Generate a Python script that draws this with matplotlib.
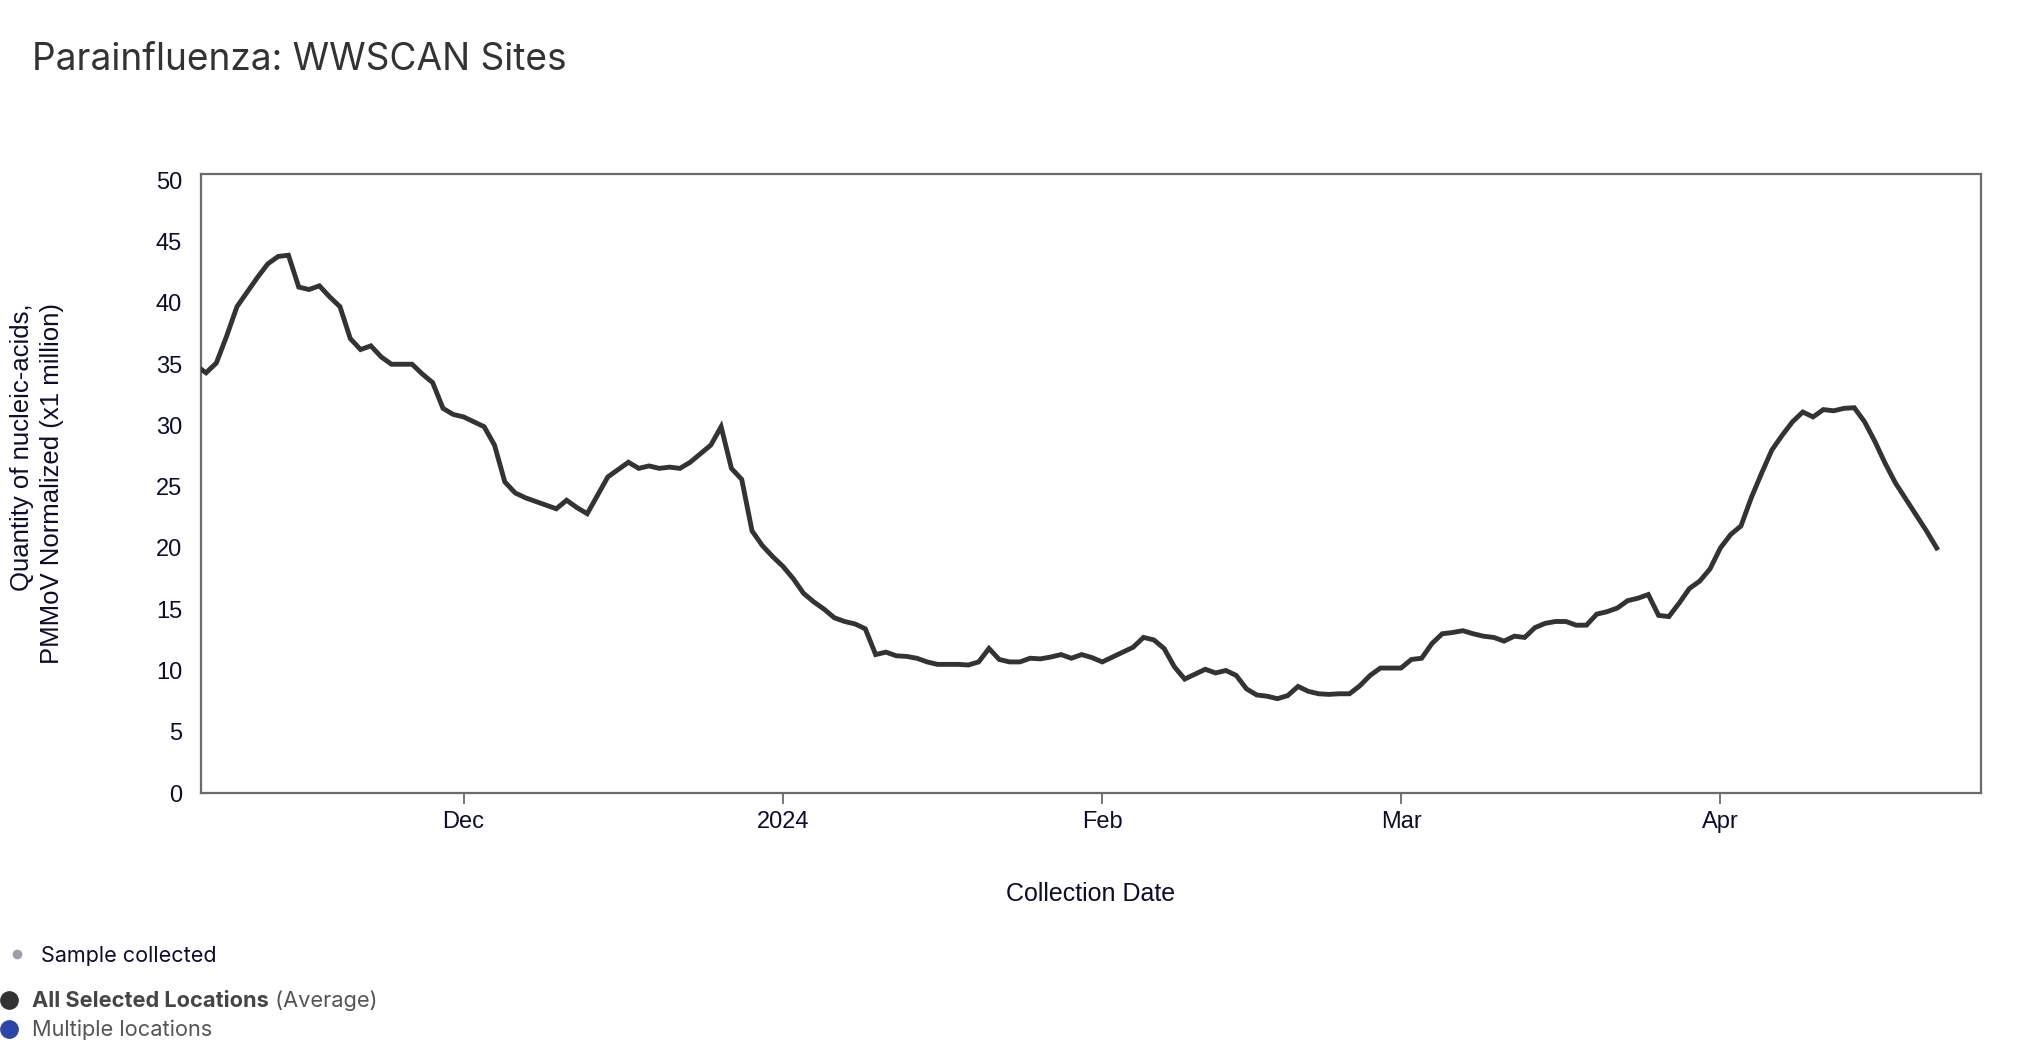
import matplotlib
matplotlib.use("Agg")
import matplotlib.pyplot as plt
import pandas as pd
import numpy as np

# ---------------- data ----------------
start_date = "2023-11-05"
values = [
    34.9, 34.3, 35.1, 37.3, 39.7, 40.9, 42.1, 43.2, 43.8, 43.9,   # Nov 5 - Nov 14
    41.3, 41.1, 41.4, 40.5, 39.7, 37.1, 36.2, 36.5, 35.6, 35.0,   # Nov 15 - Nov 24
    35.0, 35.0, 34.2, 33.5, 31.4, 30.9,                           # Nov 25 - Nov 30
    30.7, 30.3, 29.9, 28.4, 25.4, 24.5, 24.1, 23.8, 23.5, 23.2,   # Dec 1 - Dec 10
    23.9, 23.3, 22.8, 24.3, 25.8, 26.4, 27.0, 26.5, 26.7, 26.5,   # Dec 11 - Dec 20
    26.6, 26.5, 27.0, 27.7, 28.4, 29.9, 26.5, 25.6, 21.4, 20.2,   # Dec 21 - Dec 30
    19.3,                                                         # Dec 31
    18.5, 17.5, 16.3, 15.6, 15.0, 14.3, 14.0, 13.8, 13.4, 11.3,   # Jan 1 - Jan 10
    11.5, 11.2, 11.15, 11.0, 10.7, 10.5, 10.5, 10.5, 10.45, 10.7, # Jan 11 - Jan 20
    11.8, 10.9, 10.7, 10.7, 11.0, 10.95, 11.1, 11.3, 11.0, 11.3,  # Jan 21 - Jan 30
    11.05,                                                        # Jan 31
    10.7, 11.1, 11.5, 11.9, 12.7, 12.5, 11.8, 10.3, 9.3, 9.7,     # Feb 1 - Feb 10
    10.1, 9.8, 10.0, 9.6, 8.5, 8.0, 7.9, 7.7, 7.95, 8.7,          # Feb 11 - Feb 20
    8.3, 8.1, 8.05, 8.1, 8.1, 8.75, 9.6, 10.2, 10.2,              # Feb 21 - Feb 29
    10.2, 10.9, 11.0, 12.2, 13.0, 13.1, 13.25, 13.0, 12.8, 12.7,  # Mar 1 - Mar 10
    12.4, 12.8, 12.7, 13.5, 13.85, 14.0, 14.0, 13.7, 13.7, 14.6,  # Mar 11 - Mar 20
    14.8, 15.1, 15.7, 15.9, 16.2, 14.5, 14.4, 15.5, 16.7, 17.3,   # Mar 21 - Mar 30
    18.3,                                                         # Mar 31
    20.0, 21.1, 21.8, 24.1, 26.1, 28.0, 29.2, 30.3, 31.1, 30.7,   # Apr 1 - Apr 10
    31.3, 31.2, 31.4, 31.45, 30.3, 28.7, 26.9, 25.3, 24.0, 22.7,  # Apr 11 - Apr 20
    21.4, 20.0,                                                   # Apr 21 - Apr 22
]
dates = pd.date_range(start_date, periods=len(values), freq="D")

xtick_dates = ["2023-12-01", "2024-01-01", "2024-02-01", "2024-03-01", "2024-04-01"]
xtick_labels = ["Dec", "2024", "Feb", "Mar", "Apr"]
ytick_values = [0, 5, 10, 15, 20, 25, 30, 35, 40, 45, 50]

title = "Parainfluenza: WWSCAN Sites"
xlabel = "Collection Date"
ylabel = "Quantity of nucleic-acids,\nPMMoV Normalized (x1 million)"
legend_sample = "Sample collected"
legend_avg_bold = "All Selected Locations"
legend_avg_rest = " (Average)"
legend_multi = "Multiple locations"

# ---------------- style ----------------
NAVY = "#0c0c2e"
LINE = "#333333"
SPINE = "#6b6b6b"
TICKFONT = ["Liberation Sans", "DejaVu Sans"]
UIFONT = ["Inter", "DejaVu Sans"]

W, H = 2022, 1060
fig = plt.figure(figsize=(W / 100, H / 100), dpi=100)
fig.patch.set_facecolor("white")

ax_l, ax_r, ax_t, ax_b = 201, 1981, 174, 793
ax = fig.add_axes([ax_l / W, 1 - ax_b / H, (ax_r - ax_l) / W, (ax_b - ax_t) / H])

ax.plot(dates, values, color=LINE, lw=3.5, solid_joinstyle="miter", zorder=3)

dec1 = pd.Timestamp("2023-12-01")
ax.set_xlim(dec1 - pd.Timedelta(days=25.49), dec1 + pd.Timedelta(days=147.3))
ax.set_ylim(0, 50.53)

ax.set_xticks(pd.to_datetime(xtick_dates))
ax.set_xticklabels(xtick_labels)
ax.set_yticks(ytick_values)
ax.set_yticklabels([str(v) for v in ytick_values])

for s in ax.spines.values():
    s.set_color(SPINE)
    s.set_linewidth(1.6)

ax.tick_params(axis="x", length=8, width=1.3, color=SPINE, pad=5,
               labelsize=17, labelcolor=NAVY)
ax.tick_params(axis="y", length=0, pad=13.5, labelsize=17, labelcolor=NAVY)
for lab in ax.get_xticklabels() + ax.get_yticklabels():
    lab.set_family(TICKFONT)

ax.set_xlabel(xlabel, fontsize=18, color=NAVY, family=TICKFONT, labelpad=0)
ax.xaxis.set_label_coords(0.5, -(894 - ax_b) / (ax_b - ax_t), transform=ax.transAxes)
ax.xaxis.label.set_va("center")

ax.set_ylabel(ylabel, fontsize=18.5, color=NAVY, family=TICKFONT,
              multialignment="right", linespacing=1.3)
ax.yaxis.set_label_coords(-(ax_l - 37) / (ax_r - ax_l), 0.5)
ax.yaxis.label.set_va("center")

# title
fig.text(32 / W, 1 - 60 / H, title, fontsize=26.7, color="#333333",
         family=UIFONT, ha="left", va="center")

# ---------------- legend (bottom left) ----------------
lg = fig.add_axes([0, 0, 1, 1], zorder=-1)
lg.set_xlim(0, W)
lg.set_ylim(H, 0)
lg.axis("off")

lg.plot([17], [954], "o", ms=7.0, color="#9b9eac", mec="none")
lg.plot([9], [1000], "o", ms=13.5, color="#333333", mec="none")
lg.plot([9], [1029], "o", ms=13.5, color="#2b46a8", mec="none")

lg.text(41, 956, legend_sample, fontsize=15.5, color=NAVY, family=UIFONT,
        ha="left", va="center")
t_bold = lg.text(32, 1001, legend_avg_bold, fontsize=15.7, color="#454545",
                 family=UIFONT, fontweight="bold", ha="left", va="center")
lg.text(32, 1030, legend_multi, fontsize=15.7, color="#555555", family=UIFONT,
        ha="left", va="center")

fig.canvas.draw()
bb = t_bold.get_window_extent(renderer=fig.canvas.get_renderer())
x_end = bb.x1  # pixels
lg.text(x_end, 1001, legend_avg_rest, fontsize=15.7, color="#555555",
        family=UIFONT, ha="left", va="center",
        transform=matplotlib.transforms.blended_transform_factory(
            matplotlib.transforms.IdentityTransform(), lg.transData))

fig.savefig("out.png", dpi=100, facecolor="white")
